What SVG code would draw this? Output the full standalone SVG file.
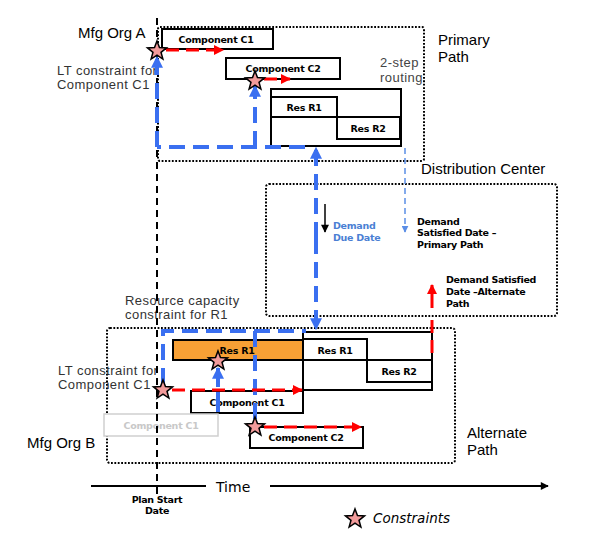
<svg xmlns="http://www.w3.org/2000/svg" width="598" height="541" viewBox="0 0 598 541">
<style>
.box{fill:#fff;stroke:#000;stroke-width:2}
.lbl{font-family:"DejaVu Sans",Verdana,sans-serif;font-weight:bold;font-size:9.5px;letter-spacing:-0.25px;fill:#000;text-anchor:middle}
.faded{fill:#C8C8C8}
.note{font-family:"Liberation Sans",Arial,sans-serif;font-size:13px;letter-spacing:0.45px;fill:#333}
.title{font-family:"Liberation Sans",Arial,sans-serif;font-size:15px;fill:#000}
.dot{fill:none;stroke:#000;stroke-width:2;stroke-dasharray:1.8 1.6}
.blue{fill:none;stroke:#3A6FF0;stroke-width:4;stroke-dasharray:16 8}
.red{fill:none;stroke:#F00;stroke-width:3;stroke-dasharray:13 7}
.star{fill:#F29B9B;stroke:#000;stroke-width:1.5;stroke-linejoin:miter}
.small{font-family:"DejaVu Sans",Verdana,sans-serif;font-weight:bold;font-size:9.5px;letter-spacing:-0.3px}
</style>
<defs>
<path id="star" d="M0,-10 L2.47,-3.4 L9.51,-3.09 L4.01,1.3 L5.88,8.09 L0,4.2 L-5.88,8.09 L-4.01,1.3 L-9.51,-3.09 L-2.47,-3.4 Z"/>
<marker id="ab" markerUnits="userSpaceOnUse" markerWidth="12" markerHeight="12" viewBox="0 0 10 10" refX="9" refY="5" orient="auto"><path d="M0,0 L10,5 L0,10 Z" fill="#3A6FF0"/></marker>
<marker id="ar" markerUnits="userSpaceOnUse" markerWidth="11" markerHeight="10" viewBox="0 0 10 10" refX="9" refY="5" orient="auto"><path d="M0,0 L10,5 L0,10 Z" fill="#F00"/></marker>
<marker id="ak" markerUnits="userSpaceOnUse" markerWidth="9" markerHeight="8" viewBox="0 0 10 10" refX="9" refY="5" orient="auto"><path d="M0,0 L10,5 L0,10 Z" fill="#000"/></marker>
<marker id="at" markerUnits="userSpaceOnUse" markerWidth="7" markerHeight="7" viewBox="0 0 10 10" refX="9" refY="5" orient="auto"><path d="M0,0 L10,5 L0,10 Z" fill="#5B8EE6"/></marker>
</defs>
<rect width="598" height="541" fill="#fff"/>

<g id="regions">
<rect class="dot" x="158" y="27" width="266" height="134" rx="2"/>
<rect class="dot" x="266" y="184" width="291" height="132" rx="3"/>
<rect class="dot" x="107" y="328" width="348" height="135" rx="3"/>
</g>

<g id="texts">
<text class="title" x="78" y="38">Mfg Org A</text>
<text class="note" x="57" y="75">LT constraint for</text>
<text class="note" x="57" y="89">Component C1</text>
<text class="note" x="380" y="67" style="fill:#444">2-step</text>
<text class="note" x="380" y="82" style="fill:#444">routing</text>
<text class="title" x="438" y="45" font-size="14.5">Primary</text>
<text class="title" x="438" y="62" font-size="14.5">Path</text>
<text class="title" x="421" y="174" font-size="15.5">Distribution Center</text>
<text class="small" x="333" y="229" fill="#4A7FD4">Demand</text>
<text class="small" x="333" y="241" fill="#4A7FD4">Due Date</text>
<text class="small" x="417" y="225">Demand</text>
<text class="small" x="417" y="236">Satisfied Date –</text>
<text class="small" x="417" y="248">Primary Path</text>
<text class="small" x="446" y="283">Demand Satisfied</text>
<text class="small" x="446" y="295">Date –Alternate</text>
<text class="small" x="446" y="307">Path</text>
<text class="note" x="125" y="305">Resource capacity</text>
<text class="note" x="125" y="319">constraint for R1</text>
<text class="note" x="58" y="375">LT constraint for</text>
<text class="note" x="58" y="389">Component C1</text>
<text class="title" x="27" y="448">Mfg Org B</text>
<text class="title" x="467" y="438">Alternate</text>
<text class="title" x="467" y="455">Path</text>
<text x="216" y="492" font-family="DejaVu Sans,Verdana,sans-serif" font-size="14">Time</text>
<text class="small" x="157" y="503" text-anchor="middle" font-size="9">Plan Start</text>
<text class="small" x="157" y="514" text-anchor="middle" font-size="9">Date</text>
<text x="373" y="523" font-family="DejaVu Sans,Verdana,sans-serif" font-style="italic" font-size="13.5">Constraints</text>
</g>

<g id="nodeA-C1"><rect class="box" x="162" y="29" width="111" height="20"/><text class="lbl" x="216" y="43">Component C1</text></g>
<g id="nodeA-C2"><rect class="box" x="226" y="58" width="114" height="21"/><text class="lbl" x="283" y="72">Component C2</text></g>
<g id="nodeA-Res"><rect class="box" x="271" y="89" width="130" height="57"/>
<rect class="box" x="271" y="97" width="66" height="20"/><text class="lbl" x="304" y="111">Res R1</text>
<rect class="box" x="337" y="117" width="63" height="22"/><text class="lbl" x="368" y="132">Res R2</text></g>

<g id="nodeB-Res"><rect class="box" x="303" y="332" width="129" height="58"/>
<rect class="box" x="303" y="339" width="64" height="21"/><text class="lbl" x="335" y="354">Res R1</text>
<rect class="box" x="367" y="360" width="65" height="22"/><text class="lbl" x="399" y="375">Res R2</text></g>
<g id="nodeB-ResR1"><rect x="173" y="340" width="130" height="20" fill="#F7A035" stroke="#000" stroke-width="2"/><text class="lbl" x="237" y="354">Res R1</text></g>
<g id="nodeB-C1"><rect class="box" x="191" y="391" width="112" height="22"/><text class="lbl" x="247" y="406">Component C1</text></g>
<g id="nodeB-C1-old"><rect x="104" y="414" width="114" height="22" fill="#fff" stroke="#CFCFCF" stroke-width="1.5"/><text class="lbl faded" x="161" y="429">Component C1</text></g>
<g id="nodeB-C2"><rect class="box" x="250" y="427" width="113" height="21"/><text class="lbl" x="306" y="441">Component C2</text></g>

<g id="connectors">
<line x1="157" y1="18" x2="157" y2="486" stroke="#000" stroke-width="2" stroke-dasharray="7 5"/>
<line x1="157" y1="486" x2="157" y2="494" stroke="#000" stroke-width="2"/>
<line x1="91" y1="486" x2="206" y2="486" stroke="#000" stroke-width="2"/>
<line x1="270" y1="486" x2="548" y2="486" stroke="#000" stroke-width="2" marker-end="url(#ak)"/>

<path class="blue" d="M305,147 H157"/>
<line class="blue" x1="157" y1="147" x2="157" y2="57" marker-end="url(#ab)"/>
<line class="blue" x1="255" y1="147" x2="255" y2="86" marker-end="url(#ab)"/>
<line class="blue" x1="316" y1="238" x2="316" y2="148" marker-end="url(#ab)"/>
<line class="blue" x1="316" y1="238" x2="316" y2="329" marker-end="url(#ab)"/>
<line x1="405" y1="148" x2="405" y2="232" stroke="#5B8EE6" stroke-width="1.5" stroke-dasharray="6 4" marker-end="url(#at)"/>
<line x1="325" y1="204" x2="325" y2="232" stroke="#000" stroke-width="1.5" marker-end="url(#ak)"/>
<line x1="432" y1="308" x2="432" y2="285" stroke="#F00" stroke-width="3" marker-end="url(#ar)"/>
<line class="red" x1="432" y1="320" x2="432" y2="360"/>

<path class="blue" d="M163,384 V331 H306"/>
<line class="blue" x1="255" y1="331" x2="255" y2="420"/>
<line x1="218" y1="412" x2="218" y2="368" stroke="#3A6FF0" stroke-width="4" stroke-dasharray="20 5" marker-end="url(#ab)"/>

<line class="red" x1="166" y1="50" x2="223" y2="50" marker-end="url(#ar)"/>
<line class="red" x1="264" y1="79" x2="290" y2="79" marker-end="url(#ar)"/>
<line class="red" x1="172" y1="390" x2="302" y2="390" marker-end="url(#ar)"/>
<line class="red" x1="264" y1="427" x2="361" y2="427" marker-end="url(#ar)"/>
</g>

<g id="constraints">
<use href="#star" class="star" x="157" y="51"/>
<use href="#star" class="star" x="255" y="81"/>
<use href="#star" class="star" x="218" y="361"/>
<use href="#star" class="star" x="163" y="390"/>
<use href="#star" class="star" x="255" y="427"/>
<use href="#star" class="star" x="355" y="519"/>
</g>
</svg>
